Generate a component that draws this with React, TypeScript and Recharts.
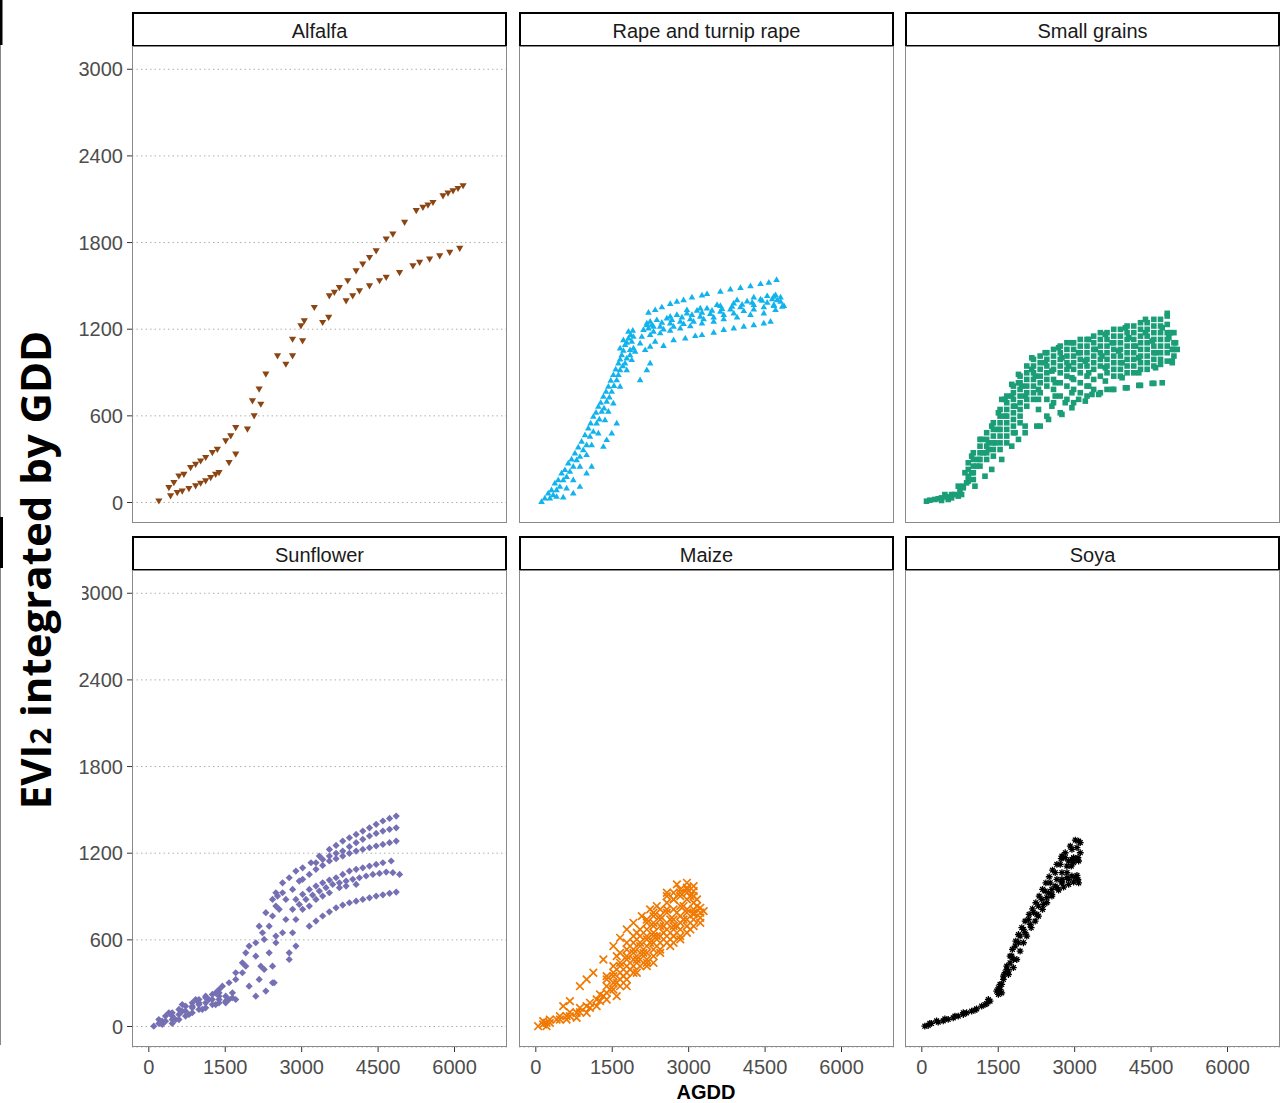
import React from 'react';
import { ScatterChart, Scatter, XAxis, YAxis, CartesianGrid } from 'recharts';

const xTicks = [0, 1500, 3000, 4500, 6000];
const yTicks = [0, 600, 1200, 1800, 2400, 3000];
const xDomain: [number, number] = [-330, 7030];
const yDomain: [number, number] = [-142, 3161];

const panelTitles = ['Alfalfa', 'Rape and turnip rape', 'Small grains', 'Sunflower', 'Maize', 'Soya'];
const yLabel = 'integrated by GDD';
const xLabel = 'AGDD';

type P = [number, number];

const alfalfa: P[] = [
  [197, 9], [394, 102], [492, 136], [590, 182], [689, 194], [820, 240], [919, 263], [1017, 286], [1116, 310], [1247, 344], [1345, 367], [1509, 425], [1608, 460], [1706, 517],
  [427, 44], [558, 67], [656, 78], [787, 95], [919, 113], [1017, 132], [1116, 148], [1214, 171], [1312, 194], [1378, 206], [1575, 275], [1706, 333],
  [1936, 506], [2067, 598], [2034, 702], [2198, 679], [2165, 783], [2297, 887], [2526, 1014], [2690, 956], [2821, 1014], [2821, 1129], [3018, 1118], [2986, 1222], [3051, 1256], [3248, 1349], [3412, 1245], [3530, 1280],
  [3543, 1430], [3642, 1453], [3740, 1487], [3904, 1534], [4068, 1603], [4199, 1649], [4331, 1695], [4462, 1741], [4659, 1822], [4790, 1857], [5020, 1938], [5249, 2019], [5380, 2042], [5479, 2058], [5577, 2076], [5774, 2122], [5872, 2141], [5971, 2157], [6069, 2173], [6168, 2192],
  [3872, 1395], [4002, 1430], [4134, 1464], [4331, 1499], [4528, 1534], [4659, 1557], [4921, 1591], [5184, 1637], [5315, 1661], [5512, 1684], [5709, 1707], [5906, 1730], [6102, 1758],
];

const rape: P[] = [
  [112, 9], [243, 67], [374, 136], [505, 206], [637, 275], [768, 344], [899, 425], [1030, 517], [1129, 598], [1227, 667], [1326, 737], [1424, 806], [1522, 887], [1621, 968], [1686, 1025], [1752, 1095], [1818, 1141], [1903, 1194],
  [276, 32], [407, 90], [538, 159], [669, 217], [801, 298], [932, 367], [1063, 460], [1194, 552], [1293, 633], [1391, 702], [1490, 771], [1588, 852], [1654, 921], [1752, 968], [1850, 1025], [1916, 1072],
  [407, 44], [604, 102], [735, 159], [866, 252], [997, 333], [1096, 402], [1227, 483], [1358, 575], [1424, 633], [1522, 691], [1654, 806], [1785, 921],
  [538, 39], [735, 67], [866, 113], [997, 206], [1096, 252], [1326, 390], [1391, 437], [1490, 483], [1588, 552],
  [177, 32], [308, 90], [440, 159], [571, 229], [702, 303], [833, 386], [965, 471], [1076, 552], [1181, 626], [1273, 695], [1378, 771], [1470, 848], [1568, 926], [1654, 995], [1719, 1055], [1785, 1111], [1864, 1164],
  [341, 55], [472, 113], [604, 182], [735, 252], [866, 321], [997, 402], [1129, 494], [1247, 580], [1339, 656], [1444, 732], [1535, 811], [1621, 887], [1706, 949],
  [1654, 1072], [1719, 1129], [1818, 1187], [1883, 1118], [1850, 1060], [1785, 1002], [1916, 1152],
  [2047, 852], [2179, 921], [2244, 968], [1883, 991], [1949, 1049],
  [2047, 1106], [2080, 1152], [2113, 1199], [2179, 1233], [2244, 1256], [2310, 1222], [2146, 1060], [2244, 1083],
  [2211, 1319], [2343, 1337], [2474, 1356], [2638, 1379], [2769, 1395], [2900, 1406], [3064, 1425], [3261, 1439], [3360, 1448], [3622, 1464], [3819, 1480], [4016, 1490], [4213, 1503], [4410, 1517], [4574, 1527], [4725, 1545],
  [2179, 1245], [2375, 1268], [2572, 1279], [2769, 1303], [2966, 1314], [3163, 1333], [3360, 1349], [3622, 1365], [3885, 1383], [4147, 1397], [4410, 1411], [4672, 1430],
  [2277, 1233], [2474, 1249], [2671, 1268], [2868, 1286], [3064, 1303], [3261, 1319], [3458, 1333], [3655, 1344], [3852, 1360], [4049, 1374], [4246, 1388], [4442, 1402], [4639, 1413], [4803, 1425],
  [2211, 1210], [2441, 1222], [2638, 1245], [2835, 1256], [3032, 1273], [3228, 1291], [3425, 1310], [3622, 1326], [3819, 1342], [4016, 1356], [4278, 1372], [4541, 1388], [4738, 1406],
  [2310, 1187], [2507, 1203], [2704, 1222], [2900, 1240], [3097, 1256], [3294, 1273], [3491, 1286], [3688, 1303], [3885, 1314], [4082, 1330], [4278, 1342], [4475, 1356], [4672, 1365], [4836, 1360],
  [2244, 1164], [2441, 1176], [2638, 1194], [2835, 1210], [3032, 1226], [3261, 1245], [3491, 1256], [3688, 1273], [3950, 1286], [4213, 1303], [4475, 1314], [4705, 1337],
  [2343, 1118], [2507, 1088], [2704, 1129], [2933, 1141], [3130, 1157], [3261, 1164], [3491, 1180], [3688, 1199], [3885, 1210], [4082, 1222], [4278, 1233], [4475, 1245], [4607, 1256],
  [2638, 1291], [2966, 1337], [3228, 1349], [3557, 1372], [3950, 1406], [4278, 1425], [4541, 1434], [4705, 1441], [4803, 1395], [4869, 1365], [4672, 1372],
];

const smallGrains: P[] = [
  [92, 9], [453, 55], [715, 113], [847, 206], [978, 321], [1175, 437], [1372, 529], [1568, 714], [1765, 818], [1897, 887], [2159, 1002], [2421, 1037], [2684, 1072], [2946, 1106], [3275, 1129], [3603, 1164], [3996, 1210], [4390, 1268], [4817, 1310],
  [518, 21], [781, 55], [1043, 113], [1240, 182], [1372, 229], [1568, 298], [1765, 390], [1897, 437], [2028, 483], [2257, 529], [2487, 575], [2750, 610], [2946, 656], [3209, 702], [3471, 748], [3734, 783], [3996, 794], [4259, 811], [4521, 825], [4718, 829],
  [4882, 1176], [4980, 1106], [5013, 1060], [4915, 968],
  [1306, 413], [1503, 506], [1634, 598], [1831, 667], [2028, 737], [2290, 783], [2618, 829], [2946, 864], [3275, 898], [3603, 933], [3931, 968], [4259, 1002], [4587, 1037], [4915, 1060],
  [1503, 621], [1765, 737], [1962, 806], [2225, 875], [2553, 910], [2881, 945], [3209, 979], [3537, 1014], [3865, 1049], [4193, 1083], [4521, 1118], [4849, 1141],
  [1634, 714], [1897, 829], [2159, 922], [2421, 968], [2750, 1002], [3078, 1037], [3406, 1060], [3734, 1106], [4062, 1141], [4390, 1176], [4718, 1210],
  [2290, 714], [2618, 737], [2946, 760], [3275, 806], [3603, 841], [3931, 864], [4259, 898], [4587, 933], [4915, 979],
  [1831, 483], [2028, 529], [2290, 644], [2553, 667], [2815, 691], [3078, 714], [3340, 748],
  [256, 21], [387, 32], [584, 55], [814, 102], [912, 148], [978, 206], [1076, 252], [1109, 298], [1207, 344], [1306, 367], [1437, 413],
  [158, 16], [322, 26], [486, 39], [650, 55], [748, 78], [814, 113], [879, 136], [584, 32], [715, 44], [387, 14],
  [912, 275], [912, 229], [912, 182],
  [1011, 344], [1011, 298], [1011, 252], [1011, 206], [1011, 159],
  [1142, 437], [1142, 390], [1142, 344], [1142, 298], [1142, 252],
  [1273, 483], [1273, 437], [1273, 390], [1273, 344], [1273, 298],
  [1404, 552], [1404, 506], [1404, 460], [1404, 413], [1404, 367], [1404, 321],
  [1536, 644], [1536, 598], [1536, 552], [1536, 506], [1536, 460], [1536, 413], [1536, 367],
  [1667, 737], [1667, 691], [1667, 644], [1667, 598], [1667, 552], [1667, 506], [1667, 460], [1667, 413],
  [1798, 806], [1798, 760], [1798, 714], [1798, 667], [1798, 621], [1798, 575], [1798, 529], [1798, 483],
  [1929, 875], [1929, 829], [1929, 783], [1929, 737], [1929, 691], [1929, 644], [1929, 598], [1929, 552],
  [2060, 945], [2060, 898], [2060, 852], [2060, 806], [2060, 760], [2060, 714], [2060, 667],
  [2192, 991], [2192, 945], [2192, 898], [2192, 852], [2192, 806], [2192, 760], [2192, 714],
  [2323, 1014], [2323, 968], [2323, 922], [2323, 875], [2323, 829], [2323, 760], [2323, 529],
  [2454, 1037], [2454, 991], [2454, 945], [2454, 898], [2454, 852], [2454, 806], [2454, 714], [2454, 598],
  [2585, 1060], [2585, 1014], [2585, 968], [2585, 922], [2585, 852], [2585, 783], [2585, 691],
  [2717, 1083], [2717, 1037], [2717, 991], [2717, 945], [2717, 898], [2717, 829], [2717, 737], [2717, 621],
  [2848, 1106], [2848, 1060], [2848, 1014], [2848, 968], [2848, 922], [2848, 875], [2848, 806], [2848, 714],
  [2979, 1106], [2979, 1060], [2979, 1014], [2979, 968], [2979, 922], [2979, 852], [2979, 783], [2979, 691],
  [3110, 1129], [3110, 1083], [3110, 1037], [3110, 991], [3110, 945], [3110, 898], [3110, 829], [3110, 760],
  [3242, 1129], [3242, 1083], [3242, 1037], [3242, 991], [3242, 945], [3242, 875], [3242, 806], [3242, 737],
  [3373, 1152], [3373, 1106], [3373, 1060], [3373, 1014], [3373, 968], [3373, 922], [3373, 852], [3373, 783],
  [3504, 1176], [3504, 1129], [3504, 1083], [3504, 1037], [3504, 991], [3504, 945], [3504, 875], [3504, 760],
  [3635, 1176], [3635, 1129], [3635, 1083], [3635, 1037], [3635, 991], [3635, 945], [3635, 898], [3635, 783],
  [3767, 1199], [3767, 1152], [3767, 1106], [3767, 1060], [3767, 1014], [3767, 968], [3767, 922], [3767, 875], [3767, 783],
  [3898, 1199], [3898, 1152], [3898, 1106], [3898, 1060], [3898, 1014], [3898, 968], [3898, 922], [3898, 875],
  [4029, 1222], [4029, 1176], [4029, 1129], [4029, 1083], [4029, 1037], [4029, 991], [4029, 945], [4029, 898], [4029, 794],
  [4160, 1222], [4160, 1176], [4160, 1129], [4160, 1083], [4160, 1037], [4160, 991], [4160, 945], [4160, 898],
  [4292, 1245], [4292, 1199], [4292, 1152], [4292, 1106], [4292, 1060], [4292, 1014], [4292, 968], [4292, 922], [4292, 811],
  [4423, 1245], [4423, 1199], [4423, 1152], [4423, 1106], [4423, 1060], [4423, 1014], [4423, 968], [4423, 922],
  [4554, 1268], [4554, 1222], [4554, 1176], [4554, 1129], [4554, 1083], [4554, 1037], [4554, 991], [4554, 945], [4554, 825],
  [4685, 1268], [4685, 1222], [4685, 1176], [4685, 1129], [4685, 1083], [4685, 1037], [4685, 991], [4685, 956],
  [4817, 1291], [4817, 1233], [4817, 1176], [4817, 1129], [4817, 1083], [4817, 1037], [4817, 979],
  [4948, 1176], [4948, 1106], [4948, 1060], [4948, 1014],
];

const sunflower: P[] = [
  [98, 2], [263, 37], [459, 72], [656, 106], [853, 141], [984, 164], [1181, 187], [1378, 210], [1575, 187], [1706, 187], [263, 14], [525, 48], [788, 83], [1050, 118], [1312, 152], [1509, 164],
  [394, 95], [656, 152], [919, 187], [1116, 210], [1312, 233],
  [197, 48], [197, 21], [328, 72], [328, 37], [459, 95], [459, 48], [459, 21], [591, 118], [591, 83], [591, 48], [722, 141], [722, 106], [722, 72], [853, 164], [853, 129], [853, 95], [984, 187], [984, 152], [984, 118], [1116, 199], [1116, 164], [1116, 129], [1247, 222], [1247, 187], [1247, 152], [1378, 233], [1378, 187], [1378, 164], [1509, 210], [1509, 175], [1641, 199],
  [1378, 256], [1575, 303], [1706, 372], [1837, 441], [1903, 510], [2100, 580], [2231, 649], [2166, 695], [2297, 788], [2428, 880], [2494, 926], [2625, 995], [2756, 1030], [2887, 1076], [3019, 1099], [3183, 1134], [3347, 1180],
  [2100, 210], [2297, 245], [2461, 303], [2428, 418], [2264, 395], [2362, 510], [2494, 580], [2625, 649], [2756, 510], [2822, 649], [2887, 741], [3019, 811], [3150, 834], [3281, 880], [3412, 903], [3544, 926], [3741, 961], [3872, 972], [4069, 984],
  [3544, 1226], [3806, 1284], [4069, 1330], [4331, 1376], [4594, 1423], [4856, 1457],
  [3675, 1254], [3937, 1307], [4200, 1353], [4462, 1400], [4725, 1441],
  [3281, 1134], [3544, 1180], [3806, 1215], [4069, 1273], [4331, 1319], [4594, 1353], [4856, 1376],
  [3412, 1157], [3675, 1199], [3937, 1245], [4200, 1296], [4462, 1337], [4725, 1365],
  [3019, 1019], [3281, 1088], [3544, 1146], [3806, 1180], [4069, 1215], [4331, 1238], [4594, 1261], [4856, 1284],
  [3150, 1053], [3412, 1115], [3675, 1162], [3937, 1199], [4200, 1226], [4462, 1250], [4725, 1273],
  [2887, 880], [3150, 949], [3412, 995], [3675, 1030], [3937, 1076], [4200, 1099], [4462, 1122], [4757, 1146],
  [3019, 915], [3281, 972], [3544, 1014], [3806, 1053], [4069, 1088], [4331, 1111], [4594, 1134],
  [2822, 811], [3084, 880], [3347, 938], [3609, 984], [3872, 1007], [4134, 1030], [4397, 1053], [4659, 1069], [4922, 1053],
  [2953, 845], [3215, 910], [3478, 961], [3741, 995], [4003, 1019], [4265, 1042], [4528, 1060], [4790, 1065],
  [3150, 695], [3412, 765], [3675, 822], [3937, 857], [4200, 880], [4462, 903], [4725, 922], [4856, 931],
  [3281, 730], [3544, 794], [3806, 841], [4069, 868], [4331, 891], [4594, 912],
  [1706, 326], [1837, 372], [1969, 279], [1641, 233], [1444, 279], [1903, 418], [2100, 487], [2198, 418], [1969, 557], [2264, 603], [2494, 626], [2756, 464], [2428, 303], [2166, 326], [2887, 557], [2690, 741], [2559, 811], [2362, 695], [2526, 903],
  [2428, 765], [2690, 880], [2822, 949], [2953, 1007], [2625, 926], [2494, 834],
];

const maize: P[] = [
  [46, 2], [210, 25], [407, 48], [604, 72], [801, 95], [997, 141], [1194, 187], [1326, 210], [210, 2], [604, 48], [801, 60], [997, 95], [1194, 141],
  [1391, 349], [1588, 487], [1785, 580], [1982, 649], [2179, 741], [2375, 834], [2572, 926], [2769, 984], [2966, 995], [3097, 972], [3163, 880], [3097, 811],
  [2310, 626], [2507, 649], [2704, 695], [2900, 741], [3097, 776], [3294, 799], [3228, 718], [3032, 672], [2835, 603], [2638, 557], [2441, 510], [2310, 441], [2179, 418],
  [1391, 187], [1588, 210], [1785, 279], [1982, 372], [2179, 441],
  [538, 141], [669, 176], [866, 279], [997, 326], [1129, 372], [1326, 464], [1522, 557], [1654, 614], [1785, 672], [1916, 718], [2080, 764], [2244, 811],
  [1522, 372], [1654, 418], [1785, 464], [1916, 510], [2047, 557], [2179, 603], [2310, 695], [2441, 741], [2572, 811], [2704, 880], [2835, 926], [2966, 949], [3032, 903], [2900, 834], [2769, 788], [2638, 741], [2507, 695], [2375, 626], [2244, 580], [2113, 510], [1982, 464], [1850, 395], [1719, 349], [1588, 303], [1457, 256], [2704, 626], [2966, 788], [3163, 834], [2769, 695],
  [144, 14], [144, 37], [276, 25], [276, 48], [472, 48], [472, 72], [669, 72], [669, 99], [866, 99], [866, 129], [1063, 129], [1063, 164], [1260, 176], [1260, 222],
  [1391, 233], [1391, 279], [1391, 326],
  [1522, 256], [1522, 303], [1522, 349], [1522, 418],
  [1654, 279], [1654, 326], [1654, 372], [1654, 441], [1654, 510],
  [1785, 326], [1785, 372], [1785, 418], [1785, 487], [1785, 533],
  [1916, 372], [1916, 418], [1916, 464], [1916, 533], [1916, 580], [1916, 626],
  [2047, 418], [2047, 464], [2047, 510], [2047, 580], [2047, 626], [2047, 672],
  [2179, 464], [2179, 510], [2179, 557], [2179, 626], [2179, 672], [2179, 718],
  [2310, 487], [2310, 533], [2310, 580], [2310, 649], [2310, 718], [2310, 764], [2310, 788],
  [2441, 533], [2441, 580], [2441, 626], [2441, 695], [2441, 764], [2441, 811],
  [2572, 580], [2572, 626], [2572, 672], [2572, 718], [2572, 788], [2572, 857], [2572, 903],
  [2704, 580], [2704, 626], [2704, 672], [2704, 741], [2704, 811], [2704, 880], [2704, 926],
  [2835, 626], [2835, 672], [2835, 718], [2835, 764], [2835, 834], [2835, 903], [2835, 949],
  [2966, 649], [2966, 695], [2966, 741], [2966, 811], [2966, 880], [2966, 926], [2966, 961],
  [3097, 695], [3097, 741], [3097, 788], [3097, 857], [3097, 903], [3097, 938],
  [3228, 753], [3228, 788], [3228, 822],
];

const soya: P[] = [
  [59, 2], [190, 21], [322, 30], [518, 49], [715, 72], [879, 95], [978, 106], [1175, 141], [1339, 176], [1503, 222], [1536, 256], [1568, 291], [1634, 372], [1700, 383], [1732, 441], [1765, 487], [1831, 557], [1929, 626], [1995, 672], [2093, 741], [2192, 788], [2290, 834], [2356, 880], [2421, 938], [2520, 995], [2618, 1065], [2717, 1122], [2815, 1169], [2946, 1226], [3078, 1284],
  [2487, 926], [2618, 972], [2750, 995], [2881, 1019], [3012, 1030], [3078, 995],
  [2750, 1180], [2946, 1157], [3078, 1146],
  [1798, 464], [1897, 580], [2028, 649], [2126, 707], [2257, 776], [2389, 845], [2454, 892], [2553, 949], [2651, 1019], [2750, 1065], [2848, 1111], [2979, 1169], [3045, 1238],
  [125, 7], [420, 39], [617, 60], [814, 83], [1076, 122], [1273, 159], [1601, 326],
  [1667, 418], [1732, 487], [1778, 534], [1844, 591], [1897, 637], [1962, 684], [2028, 730], [2106, 776], [2172, 815], [2238, 857], [2303, 903], [2369, 949], [2435, 995], [2500, 1037], [2566, 1083], [2651, 1122], [2736, 1162], [2815, 1203], [2914, 1249], [3012, 1291],
  [1798, 407], [1864, 464], [1929, 522], [1995, 580], [2060, 626], [2146, 684], [2225, 730], [2290, 764], [2369, 811], [2454, 857], [2553, 903], [2651, 961], [2750, 1019], [2848, 1065], [2933, 1111], [3025, 1157], [3110, 1203], [3110, 1273],
  [2881, 1146], [2979, 1134], [3064, 1169],
  [2553, 915], [2684, 945], [2782, 965], [2881, 984], [2979, 1000], [3064, 1019], [2750, 1007], [2848, 1030], [2946, 1042], [3045, 1046],
  [158, 21], [289, 39], [453, 53], [650, 72], [814, 95], [1043, 113], [1240, 152], [1306, 187], [1470, 245], [1536, 291], [1601, 349], [1667, 395], [1568, 233], [1503, 268], [1700, 360],
];

const FONT = '"Liberation Sans", Arial, Helvetica, sans-serif';
const colLeft = [132, 519, 905];
const rowTop = [46, 570];
const stripTop = [12, 536];
const PW = 375;
const PH = 477;

const downTri = (color: string) => (p: any) => {
  const { cx, cy } = p;
  if (cx == null || cy == null) return <g />;
  return <path d={`M${cx - 3.6},${cy - 2.8}L${cx + 3.6},${cy - 2.8}L${cx},${cy + 3.4}Z`} fill={color} />;
};
const upTri = (color: string) => (p: any) => {
  const { cx, cy } = p;
  if (cx == null || cy == null) return <g />;
  return <path d={`M${cx - 3.3},${cy + 2.7}L${cx + 3.3},${cy + 2.7}L${cx},${cy - 3}Z`} fill={color} />;
};
const square = (color: string) => (p: any) => {
  const { cx, cy } = p;
  if (cx == null || cy == null) return <g />;
  return <rect x={cx - 2.8} y={cy - 2.8} width={5.6} height={5.6} fill={color} />;
};
const diamond = (color: string) => (p: any) => {
  const { cx, cy } = p;
  if (cx == null || cy == null) return <g />;
  return <path d={`M${cx},${cy - 3.6}L${cx + 3.6},${cy}L${cx},${cy + 3.6}L${cx - 3.6},${cy}Z`} fill={color} />;
};
const cross = (color: string) => (p: any) => {
  const { cx, cy } = p;
  if (cx == null || cy == null) return <g />;
  const s = 3.8;
  return <path d={`M${cx - s},${cy - s}L${cx + s},${cy + s}M${cx - s},${cy + s}L${cx + s},${cy - s}`} stroke={color} strokeWidth={1.7} fill="none" />;
};
const star = (color: string) => (p: any) => {
  const { cx, cy } = p;
  if (cx == null || cy == null) return <g />;
  const s = 3.4;
  const d = 2.4;
  return (
    <path
      d={`M${cx - s},${cy}L${cx + s},${cy}M${cx},${cy - s}L${cx},${cy + s}M${cx - d},${cy - d}L${cx + d},${cy + d}M${cx - d},${cy + d}L${cx + d},${cy - d}`}
      stroke={color}
      strokeWidth={1.3}
      fill="none"
    />
  );
};

const panels = [
  { data: alfalfa, shape: downTri('#8B4513') },
  { data: rape, shape: upTri('#12B3EC') },
  { data: smallGrains, shape: square('#1B9E77') },
  { data: sunflower, shape: diamond('#7570B3') },
  { data: maize, shape: cross('#F07800') },
  { data: soya, shape: star('#000000') },
];

const tickStyle = { fill: '#4d4d4d', fontSize: 20, fontFamily: FONT };

function Panel({ idx }: { idx: number }) {
  const col = idx % 3;
  const row = Math.floor(idx / 3);
  const yW = col === 0 ? 70 : 0;
  const xH = row === 1 ? 45 : 0;
  const left = colLeft[col];
  const top = rowTop[row];
  const data = panels[idx].data.map(([x, y]) => ({ x, y }));
  return (
    <>
      <div
        style={{
          position: 'absolute',
          left,
          top: stripTop[row],
          width: PW,
          height: 35,
          boxSizing: 'border-box',
          border: '2px solid #000',
          background: '#fff',
          display: 'flex',
          alignItems: 'center',
          justifyContent: 'center',
          paddingTop: 3,
          fontFamily: FONT,
          fontSize: 20,
          color: '#1a1a1a',
        }}
      >
        {panelTitles[idx]}
      </div>
      <div style={{ position: 'absolute', left: left - yW, top, width: PW + yW, height: PH + xH }}>
        <ScatterChart width={PW + yW} height={PH + xH} margin={{ top: 0, right: 0, bottom: 0, left: 0 }}>
          <CartesianGrid horizontal vertical={false} stroke="#b0b0b0" strokeDasharray="1.5 3" />
          <XAxis
            type="number"
            dataKey="x"
            domain={xDomain}
            ticks={xTicks}
            allowDataOverflow
            interval={0}
            hide={row === 0}
            height={xH}
            tickSize={5}
            tickMargin={8}
            tick={tickStyle}
            tickLine={{ stroke: '#333' }}
            axisLine={false}
          />
          <YAxis
            type="number"
            dataKey="y"
            domain={yDomain}
            ticks={yTicks}
            allowDataOverflow
            interval={0}
            width={yW}
            tickSize={col === 0 ? 5 : 0}
            tickMargin={4}
            tick={col === 0 ? tickStyle : false}
            tickLine={col === 0 ? { stroke: '#333' } : false}
            axisLine={false}
          />
          <Scatter data={data} shape={panels[idx].shape} isAnimationActive={false} />
        </ScatterChart>
      </div>
      <div
        style={{
          position: 'absolute',
          left,
          top,
          width: PW,
          height: PH,
          boxSizing: 'border-box',
          border: '1px solid #8a8a8a',
          pointerEvents: 'none',
        }}
      />
    </>
  );
}

export default function App() {
  return (
    <div style={{ position: 'absolute', left: 0, top: 0, width: 1281, height: 1103, background: '#fff', overflow: 'hidden' }}>
      {panelTitles.map((_, i) => (
        <Panel key={i} idx={i} />
      ))}
      <svg width={1281} height={1103} style={{ position: 'absolute', left: 0, top: 0, pointerEvents: 'none' }}>
        <rect x={0} y={522} width={82} height={80} fill="#fff" />
        <line x1={0.5} y1={0} x2={0.5} y2={1045} stroke="#888" strokeWidth={1} />
        <rect x={0} y={0} width={2.5} height={45} fill="#000" />
        <rect x={0} y={517} width={3} height={51} fill="#000" />
        <text
          transform="translate(51,570) rotate(-90)"
          textAnchor="middle"
          fontFamily='"Open Sans", "Noto Sans", sans-serif'
          fontWeight="bold"
          fontSize={42}
          fill="#000"
        >
          EVI<tspan fontSize={29}>2</tspan> {yLabel}
        </text>
        <text x={706} y={1099} textAnchor="middle" fontFamily={FONT} fontWeight="bold" fontSize={20} fill="#000">
          {xLabel}
        </text>
      </svg>
    </div>
  );
}
